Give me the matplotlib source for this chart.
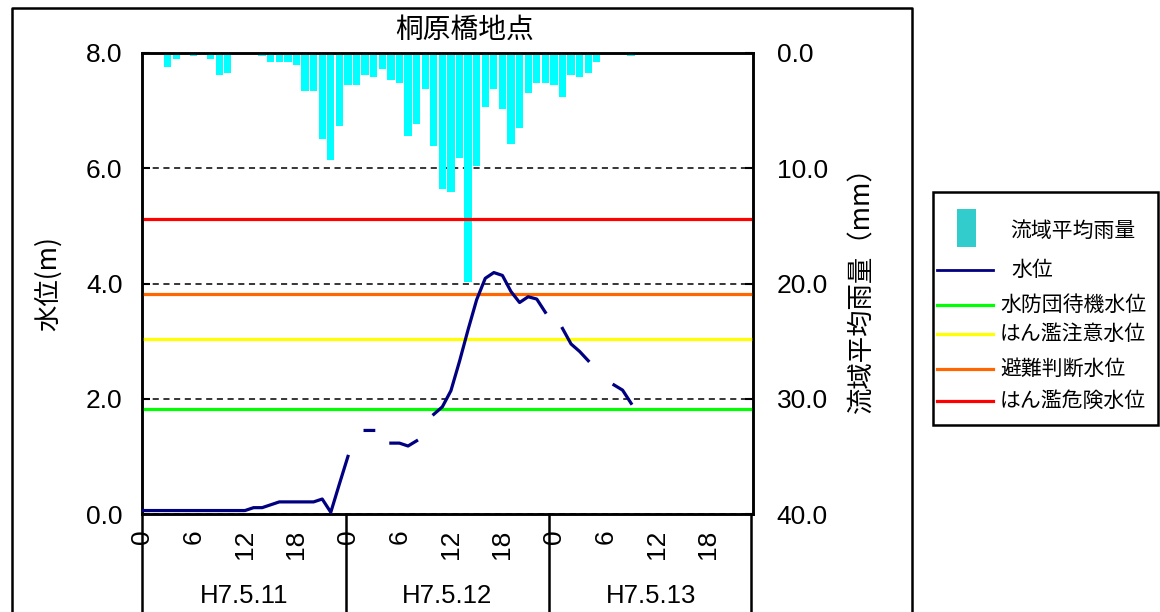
import numpy as np
import matplotlib
matplotlib.use('Agg')
import matplotlib.pyplot as plt
from matplotlib.lines import Line2D
from matplotlib.patches import Rectangle

plt.rcParams['font.family'] = ['Liberation Sans', 'Noto Sans CJK JP', 'DejaVu Sans']

# 時間 (0〜71時)
hours = np.arange(72)

# 流域平均雨量 (mm)
rain = [0, 0, 0, 1.2, 0.5, 0, 0.3, 0, 0.5, 1.9, 1.7, 0, 0, 0, 0.3, 0.75, 0.75, 0.75,
        1.0, 3.3, 3.3, 7.5, 9.3, 6.3,
        2.8, 2.8, 1.9, 2.1, 1.4, 2.3, 2.6, 7.2, 6.2, 3.1, 8.1, 11.8, 12.1, 9.1,
        19.9, 9.8, 4.7, 3.1, 4.9, 7.9, 6.5, 3.5, 2.6, 2.6,
        2.8, 3.8, 1.9, 2.1, 1.7, 0.75, 0, 0, 0, 0.3, 0, 0, 0, 0, 0, 0,
        0, 0, 0, 0, 0, 0, 0, 0]

# 水位 (m)  欠測は nan
nan = np.nan
level = [0.06] * 13 + [0.11, 0.11, 0.16, 0.21, 0.21, 0.21, 0.21, 0.21, 0.26, 0.03, 0.52,
                       1.0, nan, 1.45, 1.45, nan, 1.23, 1.23, 1.18, 1.27, nan,
                       1.73, 1.86, 2.14, 2.65, 3.2, 3.72, 4.09, 4.19, 4.14, 3.86,
                       3.67, 3.77, 3.73, 3.50, nan, 3.22, 2.95, 2.82, 2.66, nan, nan,
                       2.24, 2.15, 1.92] + [nan] * 14

# 基準水位
thr_names = ['水防団待機水位', 'はん濫注意水位', '避難判断水位', 'はん濫危険水位']
thr_values = [1.83, 3.03, 3.82, 5.12]
thr_colors = ['#00FF00', '#FFFF00', '#FF6600', '#FF0000']

day_labels = ['H7.5.11', 'H7.5.12', 'H7.5.13']
hour_ticks = ['0', '6', '12', '18']

W, H = 1160, 612
fig = plt.figure(figsize=(W / 100, H / 100), dpi=100)
ax = fig.add_axes([142 / W, 1 - 514 / H, 611 / W, 461 / H])
ax2 = ax.twinx()

# 雨量 (右軸・反転)
ax2.bar(hours, rain, width=0.85, color='#00FFFF', zorder=2)
ax2.set_ylim(40, 0)
ax2.set_yticks([0, 10, 20, 30, 40])
ax2.set_yticklabels(['%.1f' % v for v in [0, 10, 20, 30, 40]], fontsize=19)
ax2.grid(axis='y', color='black', linestyle=(0, (4, 3)), linewidth=1.1, zorder=1)
ax2.set_axisbelow(True)
ax2.tick_params(axis='y', direction='in', length=6, width=1.5, pad=17)
ax2.set_ylabel('流域平均雨量（mm）', fontsize=19, rotation=90,
               family=['Noto Sans CJK JP', 'DejaVu Sans'])
ax2.yaxis.set_label_coords(1.157, 0.5)

# 水位 (左軸)
ax.set_zorder(ax2.get_zorder() + 1)
ax.patch.set_visible(False)
for v, c in zip(thr_values, thr_colors):
    ax.axhline(v, color=c, linewidth=2.3, zorder=2)
ax.plot(hours, level, color='#000080', linewidth=2.3, zorder=3)
ax.set_ylim(0, 8)
ax.set_xlim(0, 71.2)
ax.set_yticks([0, 2, 4, 6, 8])
ax.set_yticklabels(['%.1f' % v for v in [0, 2, 4, 6, 8]], fontsize=19)
ax.tick_params(axis='y', direction='in', length=6, width=1.5, pad=14)
ax.set_ylabel('水位(m)', fontsize=19, family=['Noto Sans CJK JP', 'DejaVu Sans'])
ax.yaxis.set_label_coords(-0.131, 0.5)

xt = np.arange(0, 72, 6)
ax.set_xticks(xt)
ax.set_xticklabels(hour_ticks * 3, rotation=90, fontsize=19)
ax.tick_params(axis='x', length=0, pad=11)

for sp in ['left', 'right', 'bottom', 'top']:
    ax.spines[sp].set_linewidth(1.8)
    ax2.spines[sp].set_linewidth(1.8)

# 日付区切り
for i in range(4):
    ax.add_line(Line2D([i / 3 - (0.003 if i == 3 else 0)] * 2, [0, -0.22], transform=ax.transAxes,
                       color='black', linewidth=1.8, clip_on=False))
for i, d in enumerate(day_labels):
    ax.text((2 * i + 1) / 6, -0.178, d, transform=ax.transAxes, ha='center', va='center',
            fontsize=18.5)

fig.text(465 / W, 1 - 30 / H, '桐原橋地点', ha='center', va='center', fontsize=20,
         family=['Noto Sans CJK JP', 'DejaVu Sans'])

# 外枠
def fx(x):
    return x / W

def fy(y):
    return 1 - y / H

fig.add_artist(Line2D([fx(12), fx(12), fx(912), fx(912)], [fy(612), fy(8), fy(8), fy(612)],
                      transform=fig.transFigure, color='black', linewidth=1.8))

# 凡例
fig.add_artist(Rectangle((fx(933), fy(425)), fx(1158) - fx(933), fy(192) - fy(425),
                         transform=fig.transFigure, facecolor='white', edgecolor='black',
                         linewidth=1.8))
fig.add_artist(Rectangle((fx(957), fy(247)), fx(976) - fx(957), fy(209) - fy(247),
                         transform=fig.transFigure, facecolor='#33CCCC', edgecolor='none'))
leg_font = ['Noto Sans CJK JP', 'DejaVu Sans']
fig.text(fx(1010), fy(231), '流域平均雨量', ha='left', va='center', fontsize=15, family=leg_font)
fig.add_artist(Line2D([fx(937), fx(993)], [fy(270)] * 2, transform=fig.transFigure,
                      color='#000080', linewidth=2.0))
fig.text(fx(1011), fy(270), '水位', ha='left', va='center', fontsize=15, family=leg_font)
for name, c, y in zip(thr_names, thr_colors, [305, 334, 369, 401]):
    fig.add_artist(Line2D([fx(937), fx(993)], [fy(y)] * 2, transform=fig.transFigure,
                          color=c, linewidth=2.3))
    fig.text(fx(1000), fy(y), name, ha='left', va='center', fontsize=15, family=leg_font)

fig.savefig('out.png', dpi=100)
